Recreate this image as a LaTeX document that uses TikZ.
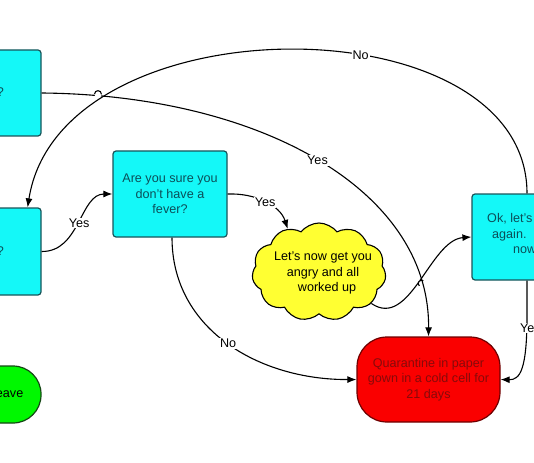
\documentclass[tikz,border=0pt]{standalone}
\usepackage{fontspec}
\setmainfont{Liberation Sans}
\usetikzlibrary{shapes.symbols,arrows.meta}
\definecolor{cyanfill}{RGB}{20,248,248}
\definecolor{cyanline}{RGB}{25,85,90}
\definecolor{cyantext}{RGB}{12,78,88}
\definecolor{yellowfill}{RGB}{255,255,50}
\definecolor{redfill}{RGB}{250,0,0}
\definecolor{redline}{RGB}{110,0,0}
\definecolor{redtext}{RGB}{135,10,10}
\definecolor{greenfill}{RGB}{0,248,0}
\definecolor{greenline}{RGB}{20,70,20}
\tikzset{
  txt/.style={font=\fontsize{12.6}{15.5}\selectfont},
  cbox/.style={txt, draw=cyanline, fill=cyanfill, line width=1.2pt, rounded corners=3pt,
    text=cyantext, align=center, inner sep=0pt},
  redterm/.style={txt, draw=redline, fill=redfill, line width=1.2pt, rounded corners=30pt,
    text=redtext, align=center, inner sep=0pt},
  greenterm/.style={txt, draw=greenline, fill=greenfill, line width=1.2pt, rounded corners=28pt,
    inner sep=0pt},
  cloudnode/.style={cloud, cloud puffs=11, cloud puff arc=105, aspect=1.4, draw=black,
    fill=yellowfill, line width=1.1pt, inner sep=0pt},
  conn/.style={line width=1.1pt, black},
  arr/.style={-{Latex[length=9pt,width=7pt]}},
  lbl/.style={txt, fill=white, inner sep=1pt},
  frag/.style={txt, inner sep=0pt}
}
\begin{document}
\begin{tikzpicture}[x=1pt,y=-1pt]
\useasboundingbox (0,0) rectangle (534,462);
\clip (0,0) rectangle (534,462);

% nodes
\node[cbox, minimum width=101pt, minimum height=86pt] (A) at (-9.5,93) {};
\node[frag, text=cyantext, anchor=east] (At) at (4,92) {?};
\node[cbox, minimum width=101pt, minimum height=87pt] (B) at (-9.5,251.5) {};
\node[frag, text=cyantext, anchor=east] (Bt) at (4,251) {?};
\node[cbox, minimum width=114pt, minimum height=86pt] (C) at (170,194)
  {Are you sure you\\don't have a\\fever?};
\node[cbox, minimum width=110pt, minimum height=86pt] (D) at (527,237) {};
\node[frag, text=cyantext, anchor=west] (D1) at (487,219) {Ok, let's};
\node[frag, text=cyantext, anchor=west] (D2) at (492,235) {again.};
\node[frag, text=cyantext, anchor=west] (D3) at (513,250) {now};
\node[cloudnode, minimum width=134pt, minimum height=98pt] (K) at (319,272) {};
\node[frag, align=center] (Kt) at (323,273)
  {Let's now get you\\angry and all\\\hspace{8pt}worked up};
\node[redterm, minimum width=143pt, minimum height=85pt] (Q) at (428.5,379.5)
  {Quarantine in paper\\gown in a cold cell for\\21 days};
\node[greenterm, minimum width=101pt, minimum height=57pt] (G) at (-9.5,394.5) {};
\node[frag, anchor=east] (Gt) at (23.5,394) {eave};

% connectors
\draw[conn,arr] (K.-31) .. controls (410,330) and (430,240) .. (D.west);
\fill[white] (421.4,283.3) circle (3.6);
\draw[conn] (419.4,285.9) .. controls (416.1,283.6) and (420.1,278.4) .. (423.4,280.7);

\draw[conn,arr] (A.east) .. controls (260,95) and (430,190) .. node[lbl,pos=0.5] {Yes} (Q.north);
\fill[white] (98,94.3) circle (3.6);
\draw[conn] (94.5,94.2) .. controls (94.5,89.5) and (101.5,89.5) .. (101.5,94.4);

\draw[conn,arr] (D.north) .. controls (527,0) and (60,0) .. node[lbl,pos=0.4] {No} ([xshift=-14pt]B.north east);

\draw[conn,arr] (B.east) .. controls (80,252) and (80,194) .. node[lbl,pos=0.5] {Yes} (C.west);
\draw[conn,arr] (C.east) .. controls (255,193) and (280,205) .. node[lbl,pos=0.5] {Yes} (K.126);
\draw[conn,arr] ([xshift=2pt]C.south) .. controls (172,330) and (260,380) .. node[lbl,pos=0.5] {No} (Q.west);
\draw[conn,arr] (D.south) -- (527,315) .. controls (527,370) and (520,380) .. (Q.east);
\node[lbl, anchor=west] (DY) at (519,328) {Ye};
\end{tikzpicture}
\end{document}
